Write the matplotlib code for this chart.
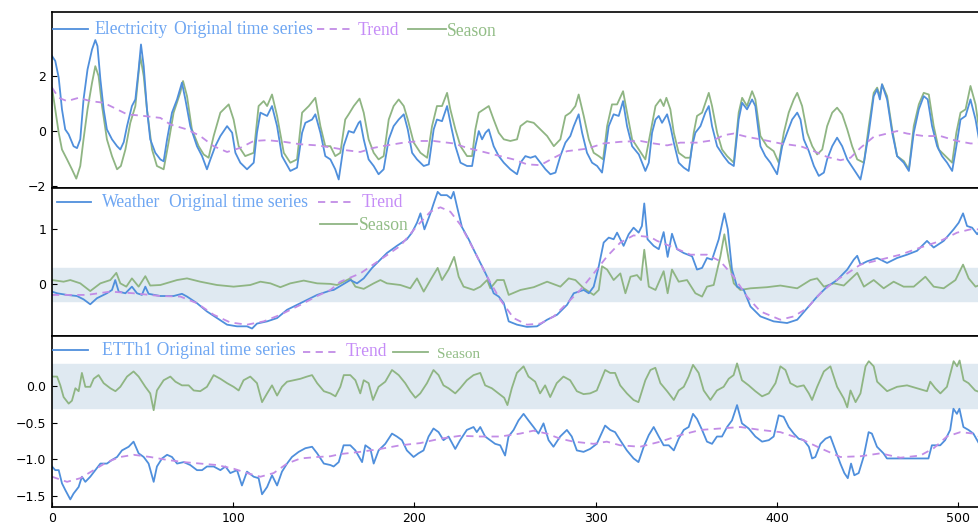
import matplotlib.pyplot as plt
from matplotlib.lines import Line2D

# ---------------- Electricity ----------------
elec_orig_x = [0, 1.8, 3.7, 5.5, 7.3, 9.2, 11.9, 13.8, 15.6, 17.4, 19.6, 22.1, 23.9, 25.1, 26.7, 28.5, 30.3, 33.1, 35.9, 37.7,
               39.6, 41.4, 44.1, 46, 47.8, 49.1, 50.6, 52.4, 54.2, 57, 59.8, 61.6, 63.5, 66.2, 69, 71.7, 73.6, 76.3, 80, 82.8,
               85.5, 87.4, 90.1, 92.9, 96.6, 99.4, 101.2, 103.9, 107.6, 111.3, 113.1, 115, 118.7, 121.4, 124.2, 126.9, 131.5, 135.2, 138, 139.8,
               143.5, 145.3, 148.1, 150.8, 153.6, 156.3, 158.2, 160.9, 163.7, 166.5, 169.2, 170.1, 172, 174.7, 177.5, 180.2, 183, 185.8, 188.5, 191.3,
               194.1, 196.3, 198.7, 201.4, 205.1, 207.9, 210.6, 212.4, 215.2, 218, 220.2, 222.6, 225.4, 229, 231.8, 233.6, 235.5, 237.3, 239.2, 241,
               243.7, 246.5, 249.3, 252.9, 256.6, 258.5, 261.2, 264, 266.7, 269.5, 272.3, 275, 277.8, 280.5, 283.3, 286, 287.9, 290.6, 292.5, 295.2,
               298, 300.8, 303.5, 305.4, 307.2, 309.9, 312.7, 315.1, 317.3, 320.1, 323.8, 327.4, 329.3, 331.1, 333, 334.8, 336.6, 339.4, 341.2, 343.1,
               345.8, 348.6, 351.3, 353.2, 355, 357.8, 360.5, 362.4, 364.2, 367, 370.6, 373.4, 376.2, 378.9, 380.8, 383.5, 386.3, 388.1, 390.9, 393.6,
               396.4, 400.1, 402.9, 405.6, 408.4, 411.2, 413, 414.8, 417.6, 420.4, 423.1, 425.9, 427.7, 430.5, 433.2, 436, 438.8, 442.4, 446.1, 448,
               450.7, 453.4, 455.3, 456.8, 458, 460.8, 463.6, 466.3, 470, 472.8, 475.5, 478.3, 481, 483.2, 485.6, 488.4, 491.1, 493.9, 496.7, 499,
               501.3, 504.1, 506.8, 509.6, 511.8]
elec_orig_y = [2.73, 2.55, 1.94, 0.79, 0.06, -0.12, -0.55, -0.62, -0.3, 1.15, 2.24, 2.97, 3.31, 3.09, 1.88, 0.79, 0.06, -0.30, -0.55, -0.67,
               -0.40, 0.18, 0.91, 1.15, 2.24, 3.15, 2.36, 0.79, -0.30, -0.79, -1.03, -1.1, -0.30, 0.67, 1.15, 1.76, 1.15, 0.18, -0.55, -0.91,
               -1.39, -1.03, -0.55, -0.18, 0.18, -0.06, -0.79, -1.15, -1.39, -1.15, -0.06, 0.67, 0.55, 0.91, 0.18, -0.91, -1.45, -1.33, -0.06, 0.30,
               0.42, 0.61, -0.06, -0.91, -1.03, -1.39, -1.76, -0.55, 0.0, -0.06, 0.30, 0.36, -0.30, -1.03, -1.27, -1.57, -1.39, -0.30, 0.18, 0.42,
               0.61, 0.06, -0.79, -1.03, -1.27, -1.21, 0.06, 0.42, 0.36, 0.91, 0.18, -0.55, -1.15, -1.27, -1.27, -0.55, 0.0, -0.30, -0.06, 0.06,
               -0.55, -0.91, -1.15, -1.39, -1.57, -1.15, -0.91, -0.97, -0.91, -1.15, -1.39, -1.57, -1.51, -0.91, -0.42, -0.18, 0.18, 0.61, -0.06, -0.79,
               -1.15, -1.27, -1.51, -0.67, 0.18, 0.61, 0.55, 1.09, 0.18, -0.55, -0.85, -1.45, -1.15, -0.06, 0.42, 0.55, 0.30, 0.61, 0.18, -0.42,
               -1.15, -1.33, -1.45, -0.55, -0.06, 0.18, 0.67, 0.91, 0.18, -0.55, -0.91, -1.15, -1.27, 0.42, 1.03, 0.79, 1.15, 0.91, -0.55, -0.91,
               -1.15, -1.57, -0.55, -0.06, 0.42, 0.67, 0.42, -0.30, -0.73, -1.27, -1.63, -1.51, -1.03, -0.55, -0.24, -0.55, -1.03, -1.39, -1.76, -1.15,
               -0.06, 1.27, 1.52, 1.15, 1.70, 1.15, -0.06, -0.91, -1.15, -1.45, -0.06, 0.79, 1.27, 1.15, 0.18, -0.55, -0.91, -1.15, -1.45, -0.55,
               0.42, 0.55, 1.15, 0.42, -0.42]

elec_trend_x = [0, 3.7, 8.3, 14.7, 21.2, 28.5, 34.1, 41.4, 50.6, 59.8, 65.3, 74.5, 81.8, 89.2, 96.6, 103.9, 111.3, 118.7, 127.9, 137.1,
                146.3, 155.4, 162.7, 170.1, 177.5, 184.8, 194.1, 203.3, 210.6, 221.7, 229, 236.4, 243.7, 254.7, 262.1, 269.5, 276.9, 284.2, 295.2, 304.4,
                313.6, 324.7, 332, 339.4, 346.7, 355.9, 365.1, 370.6, 376.2, 383.5, 390.9, 401.9, 413, 420.4, 427.7, 435.1, 440.6, 446.1, 453.4, 460.8,
                466.3, 471.8, 481, 490.2, 499.4, 506.8, 511.8]
elec_trend_y = [1.58, 1.21, 1.09, 1.21, 1.09, 1.03, 0.85, 0.61, 0.55, 0.48, 0.24, 0.06, -0.18, -0.55, -0.76, -0.61, -0.36, -0.33, -0.39, -0.48,
                -0.52, -0.61, -0.70, -0.76, -0.61, -0.52, -0.42, -0.36, -0.36, -0.45, -0.61, -0.73, -0.85, -1.03, -1.21, -1.24, -0.97, -0.73, -0.64, -0.45,
                -0.39, -0.36, -0.45, -0.52, -0.42, -0.42, -0.33, -0.15, -0.09, -0.21, -0.30, -0.45, -0.55, -0.73, -0.94, -1.06, -0.97, -0.61, -0.21, -0.09,
                0.0, -0.09, -0.18, -0.18, -0.36, -0.45, -0.45]

elec_season_x = [0, 1.8, 3.7, 5.5, 8.3, 11, 13.4, 15.6, 17.4, 19.6, 22.1, 23.9, 25.7, 27.6, 30.3, 33.1, 35.9, 38, 40.5, 43.2,
                 46, 48.7, 50.6, 52.4, 55.2, 57.9, 61.6, 64.3, 67.1, 70.8, 72.3, 74.5, 77.2, 80.9, 83.7, 86.4, 89.2, 92.9, 97.5, 100.2,
                 103, 106.6, 111.3, 114, 116.8, 118.7, 121.4, 124.2, 127.9, 131.5, 135.2, 138, 141.7, 145.3, 148.1, 150.8, 153.6, 156.3, 159.1, 161.8,
                 163.7, 166.5, 169.7, 172, 174.7, 177.5, 180.2, 183, 185.8, 188.5, 191.3, 194.1, 196.3, 199.6, 203.3, 207, 209.7, 212.4, 215.2, 218,
                 219.8, 222.6, 225.4, 229, 231.8, 233.6, 235.5, 238.2, 241, 243.7, 246.5, 249.3, 252.9, 256.6, 258.5, 262.1, 265.8, 269.5, 273.2, 276.9,
                 280.5, 283.3, 286, 288.8, 290.6, 293.4, 296.2, 298.9, 301.7, 304.1, 306.3, 309, 311.8, 315.1, 317.3, 320.1, 323.8, 327.4, 330.2, 333,
                 335.7, 337.5, 339, 341.2, 343.1, 345.8, 349.5, 352.2, 354.1, 355.9, 358.7, 362.4, 364.2, 367, 369.7, 372.5, 376.2, 378.9, 380.8, 383.5,
                 386.3, 388.1, 390.9, 394.5, 398.2, 401, 403.8, 406.5, 409.3, 411.2, 413.9, 416.7, 419.5, 422.2, 425, 427.7, 430.5, 433.2, 436, 438.8,
                 441.5, 444.3, 448, 450.7, 453.4, 455.3, 456.8, 458, 460.8, 463.6, 466.3, 470, 472.8, 475.5, 478.3, 481, 483.8, 486.5, 489.3, 493,
                 496.7, 499, 501.3, 504.1, 506.8, 509.6, 511.8]
elec_season_y = [1.58, 0.79, -0.06, -0.67, -1.03, -1.39, -1.73, -1.27, -0.3, 0.79, 1.76, 2.36, 2.0, 0.91, -0.30, -0.91, -1.39, -1.27, -0.67, 0.3,
                 0.91, 2.73, 2.0, 0.79, -0.67, -1.27, -1.39, -0.42, 0.67, 1.40, 1.82, 1.27, 0.06, -0.55, -0.85, -0.97, -0.18, 0.67, 0.97, 0.42,
                 -0.55, -0.91, -0.79, 0.91, 1.09, 0.91, 1.33, 0.55, -0.79, -1.15, -1.03, 0.67, 0.91, 1.21, 0.18, -0.55, -0.55, -0.91, -0.79, 0.42,
                 0.61, 0.91, 1.18, 0.67, -0.30, -0.79, -1.03, -0.91, 0.42, 0.91, 1.15, 0.91, 0.42, -0.42, -0.79, -0.97, 0.18, 0.91, 0.91, 1.39,
                 0.79, 0.06, -0.55, -0.91, -0.91, 0.06, 0.67, 0.79, 0.91, 0.42, -0.06, -0.30, -0.36, -0.30, 0.18, 0.36, 0.30, 0.06, -0.18, -0.55,
                 -0.30, 0.55, 0.67, 0.91, 1.33, 0.55, -0.30, -0.79, -0.91, -1.03, 0.18, 0.97, 0.97, 1.45, 0.67, -0.30, -0.67, -1.03, -0.06, 0.91,
                 1.15, 0.91, 1.21, 0.79, -0.06, -0.79, -0.97, -0.97, -0.06, 0.55, 0.67, 1.39, 0.91, -0.06, -0.67, -0.91, -1.15, 0.67, 1.21, 0.91,
                 1.45, 1.15, -0.18, -0.55, -0.73, -1.15, -0.06, 0.67, 1.15, 1.39, 0.91, -0.06, -0.55, -0.85, -0.67, 0.18, 0.67, 0.85, 0.61, 0.06,
                 -0.55, -1.03, -1.15, 0.18, 1.39, 1.58, 1.27, 1.70, 1.27, 0.06, -0.91, -1.09, -1.39, 0.18, 0.97, 1.39, 1.33, 0.18, -0.67, -0.91,
                 -1.15, -0.06, 0.67, 0.79, 1.64, 0.97, -0.06]

# ---------------- Weather ----------------
weather_orig_x = [0, 2.8, 8.3, 13.8, 17.4, 21.1, 24.8, 30.3, 33.1, 34.9, 36.8, 40.5, 44.1, 46.9, 49.6, 51.5, 53.3, 59.8, 67.1, 71.7,
                  74.5, 80, 85.5, 91, 96.6, 102.1, 107.6, 110.4, 113.1, 118.7, 124.2, 129.7, 135.2, 140.7, 146.3, 153.6, 155.4, 164.6, 168.3, 172,
                  176.6, 181.2, 184.8, 190.3, 195.8, 198.6, 201.4, 203.3, 205.5, 208.8, 210.6, 212.8, 214.6, 217.9, 220.2, 221.6, 223.5, 226.2, 229.9, 233.6,
                  238.2, 241, 243.7, 246.5, 249.3, 252, 256.6, 262.1, 267.6, 273.2, 278.7, 284.2, 287.9, 293.4, 296.2, 298.9, 301.7, 304.4, 307.2, 309.9,
                  311.8, 315.4, 318.2, 320.9, 323.7, 325.5, 326.8, 328.6, 332, 334.8, 337.5, 339.7, 342.1, 344.9, 348.6, 353.2, 355.9, 358.7, 361.4, 364.2,
                  367.9, 371, 372.9, 375.2, 378, 381.7, 385.4, 390.9, 398.2, 405.6, 411.2, 416.7, 422.2, 427.7, 433.2, 438.8, 442.4, 444.3, 446.1, 449.8,
                  455.3, 460.8, 466.3, 471.8, 477.3, 482.8, 486.5, 492, 497.5, 500.3, 502.7, 504.9, 507.7, 510.5, 511.8]
weather_orig_y = [-0.13, -0.16, -0.19, -0.21, -0.27, -0.36, -0.25, -0.16, -0.10, 0.08, -0.13, -0.16, -0.04, -0.16, -0.19, -0.04, -0.17, -0.21, -0.21, -0.17,
                  -0.22, -0.34, -0.49, -0.61, -0.73, -0.76, -0.76, -0.80, -0.71, -0.67, -0.61, -0.46, -0.37, -0.28, -0.19, -0.11, -0.10, 0.08, 0.02, 0.11,
                  0.30, 0.45, 0.57, 0.70, 0.82, 0.94, 1.12, 1.29, 1.00, 1.29, 1.47, 1.68, 1.62, 1.62, 1.56, 1.68, 1.41, 1.04, 0.82, 0.57,
                  0.27, 0.08, -0.16, -0.22, -0.34, -0.67, -0.73, -0.77, -0.76, -0.64, -0.55, -0.37, -0.16, -0.10, -0.16, -0.04, 0.33, 0.76, 0.85, 0.82,
                  0.94, 0.70, 0.91, 1.03, 0.94, 1.06, 1.47, 0.82, 0.70, 0.64, 0.95, 0.50, 0.92, 0.64, 0.57, 0.51, 0.27, 0.30, 0.48, 0.45,
                  0.82, 1.29, 1.00, 0.27, -0.04, -0.10, -0.40, -0.58, -0.67, -0.70, -0.64, -0.43, -0.22, -0.04, 0.08, 0.27, 0.45, 0.52, 0.36, 0.42,
                  0.48, 0.39, 0.48, 0.54, 0.61, 0.79, 0.67, 0.79, 1.00, 1.12, 1.29, 1.06, 1.03, 0.91, 0.97]

weather_trend_x = [0, 8.3, 19.2, 32.2, 45, 59.8, 70.8, 80, 89.2, 98.4, 107.6, 116.8, 126, 137.1, 146.3, 153.6, 159.1, 170.1, 181.2, 192.2,
                   201.4, 208.8, 214.3, 219.8, 225.4, 232.7, 240.1, 247.4, 254.7, 262.1, 269.5, 276.9, 284.2, 291.5, 298.9, 306.3, 313.6, 320.9, 330.2, 333.9,
                   343.1, 352.3, 361.4, 368.8, 376.2, 383.5, 390.9, 401.9, 409.3, 416.7, 424, 431.4, 438.8, 446.1, 457.1, 468.1, 479.2, 490.2, 499.4, 506.8,
                   511.8]
weather_trend_y = [-0.19, -0.19, -0.19, -0.13, -0.16, -0.21, -0.22, -0.34, -0.55, -0.69, -0.73, -0.67, -0.55, -0.37, -0.21, -0.10, 0.05, 0.20, 0.45, 0.70,
                   1.06, 1.32, 1.40, 1.32, 1.08, 0.63, 0.14, -0.28, -0.61, -0.73, -0.71, -0.58, -0.34, -0.10, 0.20, 0.51, 0.76, 0.89, 0.86, 0.79,
                   0.67, 0.54, 0.54, 0.42, 0.14, -0.22, -0.49, -0.64, -0.58, -0.43, -0.16, 0.05, 0.20, 0.36, 0.45, 0.54, 0.67, 0.79, 0.94, 1.00,
                   1.00]

weather_season_x = [0, 6.4, 10.1, 15.6, 21.1, 26.7, 32.2, 35.5, 37.7, 41, 44.1, 47.8, 51.5, 54.2, 59.8, 69, 74.5, 81.8, 91, 100.2,
                    109.4, 115, 120.5, 126, 131.5, 138.9, 146.3, 153.6, 157.3, 164.6, 167.4, 172, 177.5, 181.2, 184.8, 192.2, 197.7, 201.4, 205.1, 208.8,
                    212.8, 215.2, 218.8, 221.9, 224.4, 227.1, 232.7, 236.4, 240.1, 241.9, 245.6, 249.3, 252, 258.5, 265.8, 273.2, 280.5, 285.1, 288.8, 293.4,
                    298.9, 301.7, 303.5, 306.3, 309.9, 313.6, 316.4, 319.2, 322.8, 325, 326.8, 329.3, 333, 337.5, 339.7, 342.1, 345.8, 350.4, 355, 358.7,
                    361.4, 365.1, 368.8, 371, 373.4, 376.2, 379.8, 385.4, 394.5, 401.9, 411.2, 418.5, 422.2, 425.9, 431.4, 436.9, 444.3, 448, 453.4, 458.9,
                    464.4, 469.9, 475.5, 481.9, 486.5, 492, 498.5, 502.7, 505.8, 509.6, 511.8]
weather_season_y = [0.08, 0.05, 0.08, 0.02, -0.12, 0.02, 0.08, 0.21, 0.02, -0.04, 0.11, -0.04, 0.15, -0.02, -0.01, 0.08, 0.11, 0.05, -0.01, -0.04,
                    -0.01, 0.05, 0.02, -0.05, 0.02, 0.07, 0.02, 0.01, -0.01, 0.11, -0.04, -0.08, 0.02, 0.08, 0.02, -0.01, -0.07, 0.11, -0.13, 0.08,
                    0.30, 0.08, 0.27, 0.50, 0.14, -0.04, -0.10, -0.04, 0.08, -0.07, 0.08, 0.08, -0.19, -0.10, -0.05, 0.05, -0.04, 0.11, 0.08, -0.07,
                    -0.19, -0.10, 0.33, 0.27, 0.08, 0.20, -0.16, 0.14, 0.17, 0.08, 0.63, -0.04, -0.10, 0.24, -0.16, 0.27, 0.05, 0.08, -0.16, -0.22,
                    -0.04, -0.01, 0.51, 0.91, 0.45, 0.02, -0.10, -0.07, -0.05, -0.02, -0.07, 0.08, 0.11, -0.04, 0.02, -0.02, 0.21, -0.04, 0.08, -0.07,
                    0.05, -0.04, -0.04, 0.14, -0.04, -0.07, 0.08, 0.36, 0.11, -0.04, -0.01]

# ---------------- ETTh1 ----------------
etth1_orig_x = [0, 1.8, 3.7, 5.5, 7.3, 10.1, 11.9, 14.7, 16.5, 18.4, 21.1, 23.9, 26.7, 30.3, 33.1, 35.9, 38.6, 42.3, 45, 47.8,
                50.6, 53.3, 56.1, 57.9, 60.7, 63.5, 66.2, 69, 72.7, 76.3, 80, 82.8, 85.5, 89.2, 92.9, 95.7, 98.4, 102.1, 104.8, 107.6,
                111.3, 114, 115.9, 118.7, 121.4, 124.2, 126.9, 129.7, 132.4, 136.1, 139.8, 143.5, 146.3, 150, 153.6, 155.4, 158.2, 160.9, 164.6, 167.4,
                171.1, 172.9, 175.7, 177.5, 180.2, 183.9, 187.6, 190.3, 193.1, 195.8, 199.5, 202.2, 205, 207.8, 210.5, 213.3, 216, 218.8, 222.5, 225.2,
                228.9, 232.6, 234.4, 236.3, 239, 241.8, 244.5, 247.3, 250, 251.9, 254.7, 257.4, 260.2, 262.9, 265.7, 268.4, 271.2, 274, 276.7, 280.4,
                284.1, 286.8, 289.6, 293.3, 296.9, 300.6, 305.2, 308, 310.7, 313.5, 317.2, 320.9, 323.6, 326.5, 329.3, 332, 334.8, 337.5, 340.3, 343.1,
                345.8, 348.6, 351.3, 353.7, 355.9, 358.7, 361.4, 364.2, 366.9, 369.7, 372.5, 375.2, 378, 380.7, 384.4, 388.1, 391.8, 395.5, 398.2, 401,
                403.7, 406.5, 409.3, 412, 414.8, 417.6, 419.4, 421.2, 424, 426.8, 429.5, 432.3, 435, 437.2, 439.1, 440.9, 442.7, 445.1, 447.8, 450.6,
                452.4, 455.2, 458.8, 460.7, 471.7, 483.6, 485.5, 490.1, 492.8, 495.6, 497.4, 499.3, 500.7, 502.9, 505.7, 508.4, 511.6]
etth1_orig_y = [-1.10, -1.15, -1.15, -1.33, -1.42, -1.55, -1.47, -1.38, -1.24, -1.31, -1.24, -1.15, -1.06, -1.06, -1.01, -0.97, -0.88, -0.83, -0.76, -0.92,
                -0.97, -1.06, -1.31, -1.10, -0.99, -0.94, -0.97, -1.06, -1.04, -1.08, -1.15, -1.15, -1.10, -1.10, -1.15, -1.10, -1.19, -1.15, -1.36, -1.17,
                -1.24, -1.26, -1.48, -1.38, -1.22, -1.36, -1.17, -1.06, -0.97, -0.90, -0.85, -0.83, -0.92, -1.06, -1.08, -1.10, -1.04, -0.81, -0.81, -0.88,
                -1.04, -0.81, -0.86, -1.06, -0.88, -0.79, -0.65, -0.69, -0.74, -0.88, -0.97, -0.92, -0.88, -0.69, -0.58, -0.63, -0.74, -0.69, -0.86, -0.74,
                -0.60, -0.56, -0.63, -0.56, -0.69, -0.74, -0.79, -0.81, -0.95, -0.69, -0.60, -0.47, -0.38, -0.47, -0.56, -0.65, -0.51, -0.74, -0.83, -0.69,
                -0.60, -0.69, -0.88, -0.90, -0.86, -0.79, -0.54, -0.60, -0.63, -0.74, -0.88, -0.99, -1.04, -0.83, -0.67, -0.56, -0.69, -0.81, -0.81, -0.88,
                -0.72, -0.60, -0.56, -0.38, -0.45, -0.60, -0.76, -0.79, -0.69, -0.69, -0.56, -0.47, -0.26, -0.51, -0.58, -0.69, -0.76, -0.74, -0.69, -0.40,
                -0.42, -0.56, -0.65, -0.72, -0.74, -0.83, -0.99, -0.97, -0.79, -0.72, -0.69, -0.88, -1.06, -1.19, -1.26, -1.06, -1.22, -1.19, -0.97, -0.63,
                -0.65, -0.83, -0.92, -0.99, -0.99, -0.99, -0.81, -0.81, -0.74, -0.60, -0.31, -0.38, -0.31, -0.56, -0.60, -0.65, -0.79]

etth1_trend_x = [0, 8.3, 15.6, 23, 30.3, 37.7, 45, 54.2, 63.5, 72.7, 81.8, 91, 100.2, 107.6, 115, 122.3, 129.7, 137.1, 146.3, 153.6,
                 159.1, 170.1, 181.1, 192.2, 203.2, 214.2, 225.2, 236.3, 247.3, 258.3, 265.7, 273, 280.4, 287.8, 298.8, 306.1, 313.5, 324.5, 335.7, 346.8,
                 357.8, 368.8, 379.8, 390.9, 401.9, 412.9, 424, 435, 446.1, 457.1, 468.1, 479.1, 486.5, 493.8, 501.2, 508.5, 511.6]
etth1_trend_y = [-1.24, -1.31, -1.26, -1.15, -1.04, -0.97, -0.94, -0.97, -1.01, -1.04, -1.06, -1.08, -1.13, -1.19, -1.24, -1.19, -1.06, -0.99, -0.97, -0.96,
                 -0.93, -0.90, -0.86, -0.81, -0.78, -0.72, -0.68, -0.69, -0.69, -0.65, -0.61, -0.65, -0.72, -0.76, -0.79, -0.76, -0.81, -0.83, -0.76, -0.67,
                 -0.60, -0.58, -0.56, -0.60, -0.63, -0.72, -0.85, -0.97, -0.96, -0.92, -0.98, -0.95, -0.85, -0.69, -0.63, -0.65, -0.69]

etth1_season_x = [0, 2.8, 4.6, 6.4, 9.2, 11, 12.9, 14.7, 16.5, 18.4, 21.1, 23, 25.7, 28.5, 32.2, 35, 37.7, 41.4, 45, 47.8,
                  51.5, 54.2, 56.1, 57.9, 61.6, 65.3, 68.1, 71.7, 75.4, 78.2, 81.8, 85.5, 89.2, 92.9, 96.6, 100.2, 103, 105.7, 109.4, 113.1,
                  115.9, 118.7, 121.4, 124.2, 126.9, 129.7, 133.4, 137.1, 140.7, 143.5, 146.3, 150, 153.6, 156.4, 159.1, 161, 164.6, 167.4, 170.1, 172,
                  174.7, 177.1, 180.2, 183.9, 187.6, 191.3, 194.9, 197.7, 200.5, 203.2, 206.9, 210.5, 213.3, 216, 218.8, 222.5, 225.2, 228.9, 232.6, 236.3,
                  239, 242.7, 246.4, 249.5, 251.3, 253.7, 256.5, 260.2, 262.9, 266.6, 269.3, 272.1, 274.9, 278.5, 282.2, 285.9, 289.6, 293.3, 296.9, 300.6,
                  305.2, 308, 310.7, 313.5, 317.2, 320.9, 323.6, 327.4, 330.2, 332.9, 335.7, 339.4, 343.1, 345.8, 348.6, 351.3, 353.7, 356.8, 359.6, 363.3,
                  366.9, 370.6, 373.4, 376.1, 378, 380.7, 384.4, 388.1, 391.8, 395.5, 399.2, 401.9, 404.7, 407.4, 411.1, 414.8, 417.6, 419.4, 422.2, 425.9,
                  429.5, 433.2, 436.9, 438.8, 440.6, 443.4, 446.1, 448.9, 450.7, 453.4, 455.3, 460.8, 466.3, 471.8, 477.3, 482.8, 484.6, 487.4, 490.2, 493.8,
                  497.5, 499.4, 500.8, 503, 505.7, 509.4, 511.6]
etth1_season_y = [0.13, 0.13, 0.01, -0.15, -0.24, -0.20, -0.03, -0.07, 0.18, -0.01, -0.01, 0.10, 0.15, 0.04, -0.03, -0.07, -0.01, 0.13, 0.20, 0.13,
                  -0.01, -0.10, -0.33, -0.06, 0.08, 0.13, 0.06, 0.01, 0.01, -0.06, -0.07, -0.01, 0.15, 0.10, 0.04, -0.01, -0.06, 0.08, 0.13, 0.04,
                  -0.22, -0.10, 0.01, -0.13, -0.01, 0.06, 0.08, 0.10, 0.13, 0.15, 0.04, -0.07, -0.10, -0.14, -0.01, 0.15, 0.15, 0.08, -0.10, 0.08,
                  0.04, -0.19, -0.01, 0.06, 0.22, 0.15, 0.04, -0.07, -0.16, -0.10, 0.04, 0.22, 0.15, 0.01, -0.03, -0.10, -0.03, 0.08, 0.15, 0.18,
                  0.01, -0.03, -0.10, -0.16, -0.26, -0.03, 0.18, 0.27, 0.13, 0.06, -0.10, 0.01, -0.15, 0.04, 0.13, 0.08, -0.07, -0.11, -0.10, -0.06,
                  0.22, 0.18, 0.18, 0.01, -0.10, -0.19, -0.22, 0.08, 0.22, 0.25, 0.04, -0.07, -0.19, -0.06, -0.01, 0.13, 0.29, 0.18, -0.06, -0.19,
                  -0.06, -0.01, 0.10, 0.15, 0.31, 0.08, 0.01, -0.07, -0.14, -0.10, 0.04, 0.27, 0.22, 0.04, -0.01, 0.01, -0.10, -0.19, -0.01, 0.20,
                  0.27, -0.01, -0.17, -0.29, -0.06, -0.22, -0.10, 0.27, 0.34, 0.27, 0.06, -0.07, -0.01, 0.01, -0.03, -0.07, 0.06, -0.03, -0.10, -0.01,
                  0.34, 0.27, 0.35, 0.08, 0.04, -0.06, -0.08]

c_orig = '#4f8fdc'
c_trend = '#c28ce6'
c_season = '#8fb583'
c_band = '#dfe9f1'
t_orig = '#6ea6f2'
t_trend = '#c58cf7'
t_season = '#92bd86'

W, H = 979, 525
fig = plt.figure(figsize=(W / 100, H / 100), dpi=100)


def box(top, bottom):
    return [52 / W, 1 - bottom / H, (W - 52) / W, (bottom - top) / H]


ax1 = fig.add_axes(box(12, 188))
ax2 = fig.add_axes(box(188, 335.7))
ax3 = fig.add_axes(box(336, 506.7))

ax1.plot(elec_season_x, elec_season_y, color=c_season, lw=1.3)
ax1.plot(elec_orig_x, elec_orig_y, color=c_orig, lw=1.3)
ax1.plot(elec_trend_x, elec_trend_y, color=c_trend, lw=1.3, ls='--', dashes=(4, 3))
ax1.set_ylim(-2.07, 4.33)
ax1.set_yticks([-2, 0, 2])

ax2.axhspan(-0.3, 0.3, color=c_band, zorder=0)
ax2.plot(weather_season_x, weather_season_y, color=c_season, lw=1.3)
ax2.plot(weather_orig_x, weather_orig_y, color=c_orig, lw=1.3)
ax2.plot(weather_trend_x, weather_trend_y, color=c_trend, lw=1.3, ls='--', dashes=(4, 3))
ax2.set_ylim(-0.93, 1.75)
ax2.set_yticks([0, 1])

ax3.axhspan(-0.3, 0.3, color=c_band, zorder=0)
ax3.plot(etth1_season_x, etth1_season_y, color=c_season, lw=1.3)
ax3.plot(etth1_orig_x, etth1_orig_y, color=c_orig, lw=1.3)
ax3.plot(etth1_trend_x, etth1_trend_y, color=c_trend, lw=1.3, ls='--', dashes=(4, 3))
ax3.set_ylim(-1.65, 0.685)
ax3.set_yticks([-1.5, -1.0, -0.5, 0.0])
ax3.set_xticks([0, 100, 200, 300, 400, 500])

for ax in (ax1, ax2, ax3):
    ax.set_xlim(0, 511.5)
    ax.spines['right'].set_visible(False)
    for s in ('left', 'top', 'bottom'):
        ax.spines[s].set_linewidth(1.2)
    ax.tick_params(direction='in', length=3.5, labelsize=9, pad=4)
for ax in (ax1, ax2):
    ax.tick_params(axis='x', bottom=False, labelbottom=False)


# hand-made legends, positions in figure pixels
def handle(x0, x1, y, color, dashed=False):
    ls = (0, (4, 3)) if dashed else '-'
    fig.add_artist(Line2D([x0 / W, x1 / W], [1 - y / H, 1 - y / H], color=color, lw=1.3, ls=ls))


def label(x, y, s, color, size=12.7):
    fig.text(x / W, 1 - y / H, s, color=color, fontsize=size, family='Liberation Serif', va='baseline')


handle(53, 88, 29, c_orig)
label(94, 33.5, 'Electricity', t_orig)
label(174, 33.5, 'Original time series', t_orig)
handle(317, 352, 29, c_trend, dashed=True)
label(358, 35, 'Trend', t_trend)
handle(408, 446, 29, c_season)
label(447, 35.5, 'Season', t_season)

handle(57, 91, 201.5, c_orig)
label(102, 206.7, 'Weather', t_orig)
label(169, 206.7, 'Original time series', t_orig)
handle(318, 353, 201.5, c_trend, dashed=True)
label(362, 206.7, 'Trend', t_trend)
handle(320, 357, 224.3, c_season)
label(359, 230, 'Season', t_season)

handle(53, 88, 350, c_orig)
label(102, 355, 'ETTh1 Original time series', t_orig)
handle(303, 340, 352, c_trend, dashed=True)
label(346, 355.7, 'Trend', t_trend)
handle(393, 428, 352, c_season)
label(437, 358, 'Season', t_season, size=10.9)

fig.savefig('out.png', dpi=100)
